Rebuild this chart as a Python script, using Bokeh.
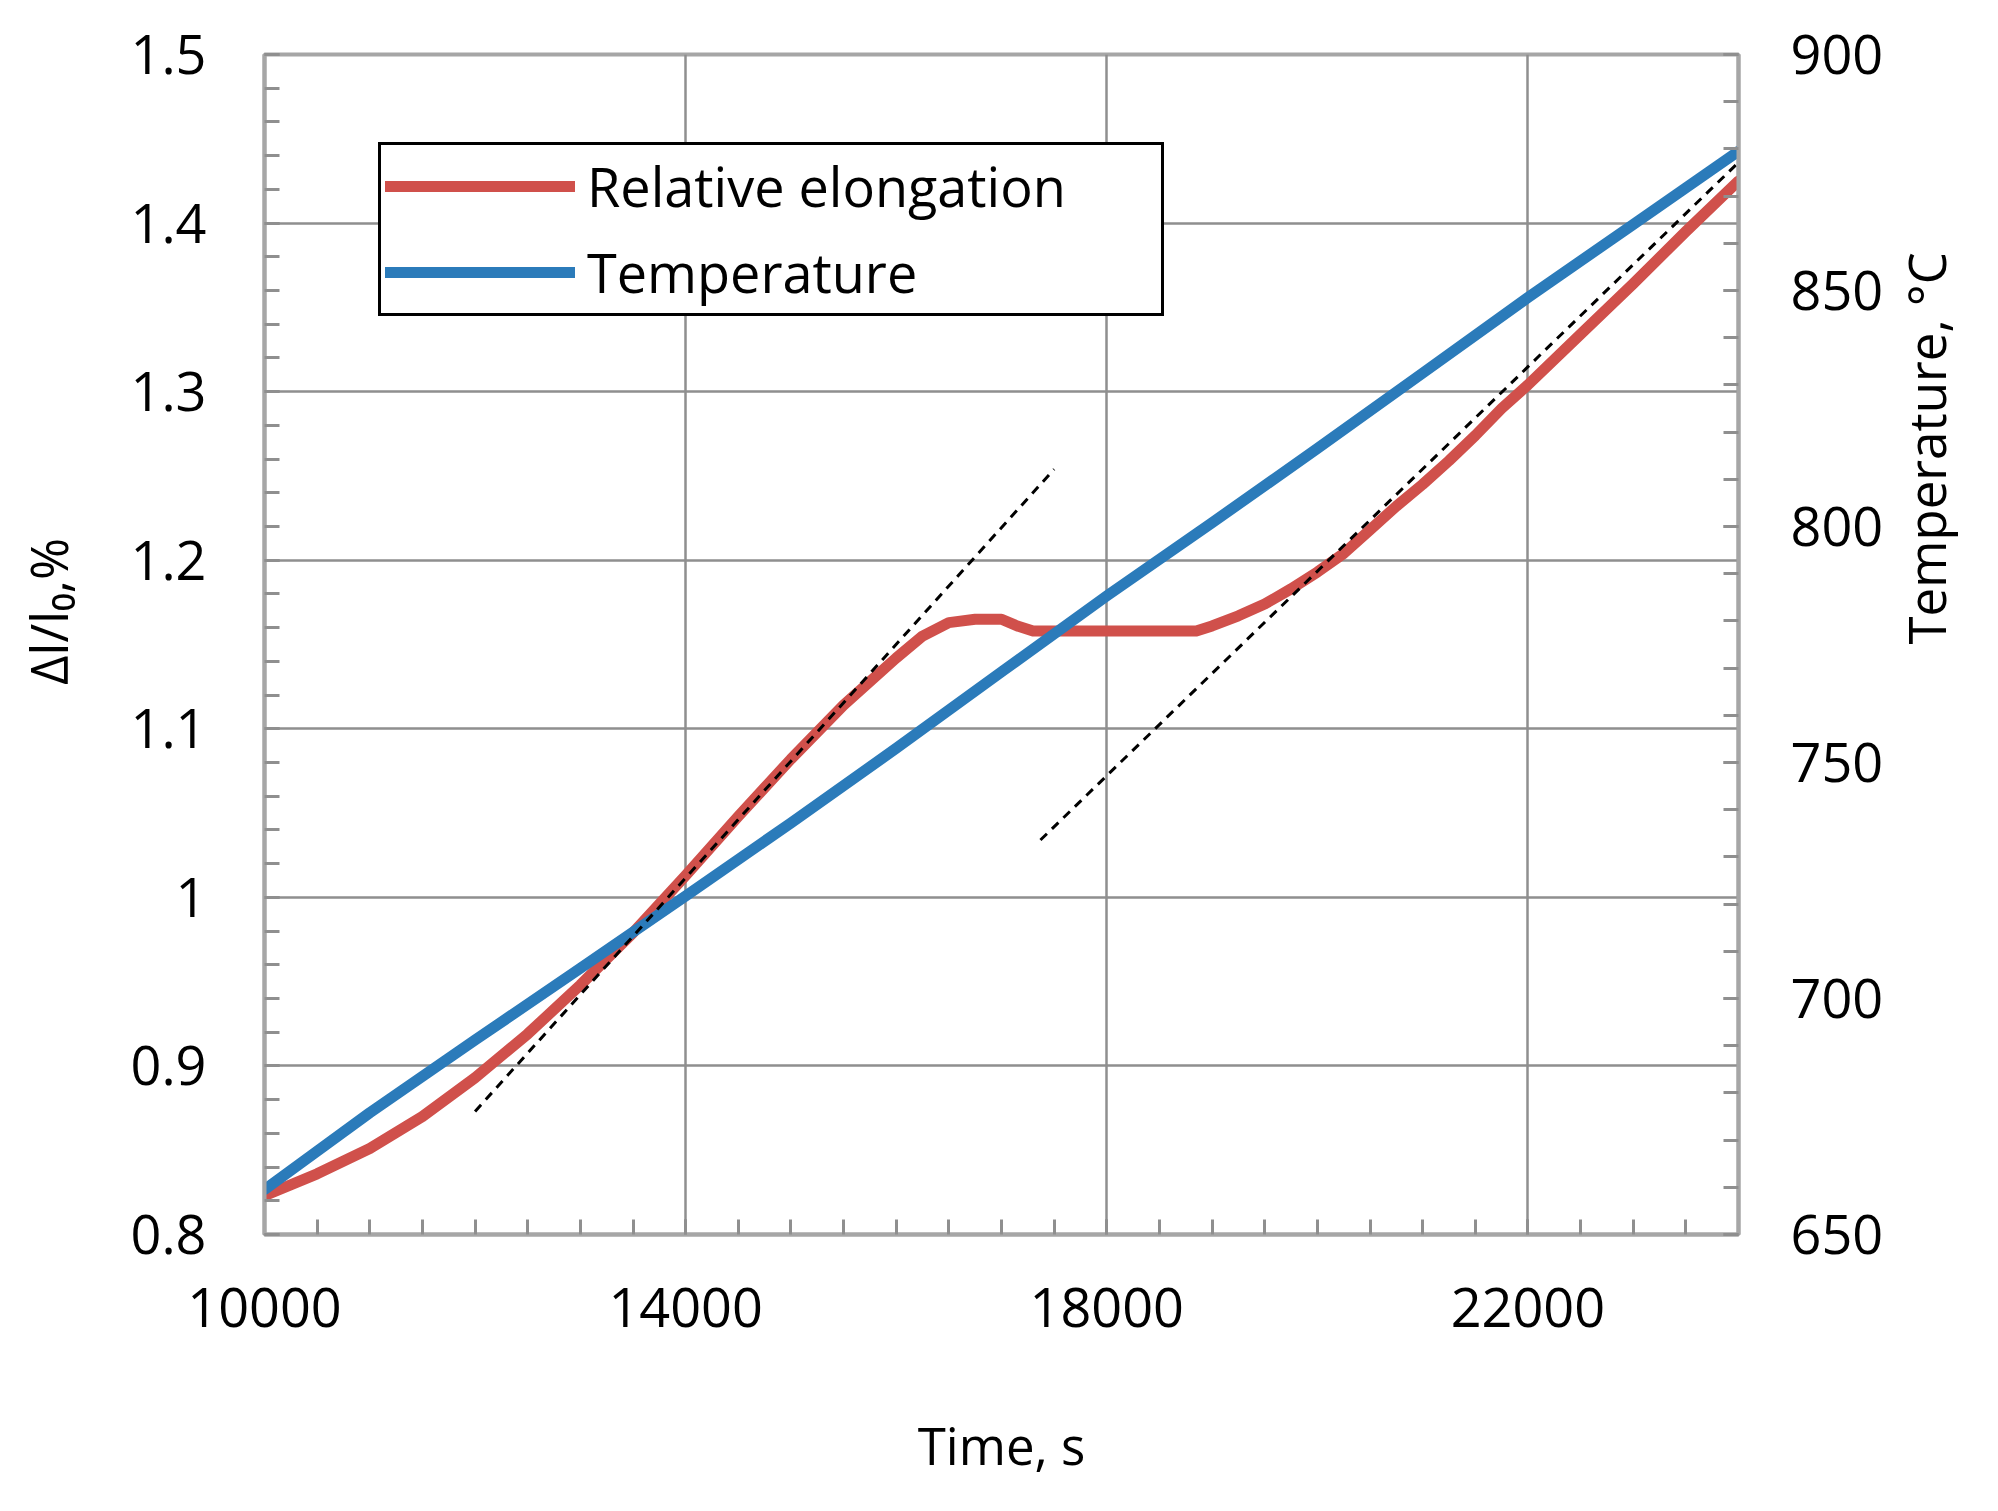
import numpy as np
from bokeh.plotting import figure
from bokeh.models import (Range1d, LinearAxis, FixedTicker, CustomJSTickFormatter,
                          Legend, LegendItem)
from bokeh.embed import file_html
from bokeh.resources import INLINE

# ---------------- data ----------------
time_elong = [10000, 10500, 11000, 11500, 12000, 12500, 13000, 13500, 14000, 14500,
              15000, 15500, 16000, 16250, 16500, 16750, 17000, 17150, 17300, 17500,
              18000, 18500, 18850, 19000, 19250, 19500, 19750, 20000, 20250, 20500,
              20750, 21000, 21250, 21500, 21750, 22000, 22500, 23000, 23500, 24000]
elongation = [0.823, 0.836, 0.851, 0.870, 0.893, 0.919, 0.948, 0.979, 1.013, 1.048,
              1.082, 1.114, 1.142, 1.155, 1.163, 1.165, 1.165, 1.161, 1.158, 1.158,
              1.158, 1.158, 1.158, 1.161, 1.167, 1.174, 1.183, 1.193, 1.204, 1.218,
              1.232, 1.245, 1.259, 1.274, 1.290, 1.304, 1.334, 1.364, 1.395, 1.425]

time_temp = [10000, 11000, 12000, 13000, 14000, 15000, 16000, 17000, 18000, 19000,
             20000, 21000, 22000, 23000, 24000]
temperature = [659.5, 675.8, 691.2, 706.4, 721.7, 737.2, 753.0, 769.2, 785.3, 800.8,
               816.5, 832.5, 848.5, 864.0, 879.5]

tangent1_time = [12000, 17500]
tangent1_elong = [0.873, 1.254]
tangent2_time = [17370, 24000]
tangent2_elong = [1.034, 1.436]

x_ticks = [10000, 14000, 18000, 22000]
y_ticks = [0.8, 0.9, 1.0, 1.1, 1.2, 1.3, 1.4, 1.5]
t_ticks = [650, 700, 750, 800, 850, 900]

series_names = ["Relative elongation", "Temperature"]
x_label = "Time, s"
y_label = "\u0394l/l\u2080,%"
t_label = "Temperature, \u00b0C"

# ---------------- style ----------------
FONT = "Open Sans"
RED = "#D0504B"
BLUE = "#2B7BBA"
AXIS = "#a6a6a6"
GRID = "#8f8f8f"
NBSP = "\u00a0"

p = figure(frame_width=1474, frame_height=1180,
           x_range=Range1d(10000, 24000), y_range=Range1d(0.8, 1.5),
           output_backend="svg", toolbar_location=None,
           min_border_left=264, min_border_top=54,
           min_border_right=250, min_border_bottom=276,
           background_fill_color="white", border_fill_color="white")
p.extra_y_ranges = {"temp": Range1d(650, 900)}

r_red = p.line(time_elong, elongation, line_color=RED, line_width=11,
               line_join="round", line_cap="round")
r_blue = p.line(time_temp, temperature, y_range_name="temp", line_color=BLUE,
                line_width=11, line_join="round", line_cap="round")
p.line(tangent1_time, tangent1_elong, line_color="black", line_width=3, line_dash="9 7")
p.line(tangent2_time, tangent2_elong, line_color="black", line_width=3, line_dash="9 7")

x_ticker = FixedTicker(ticks=x_ticks, minor_ticks=list(np.arange(10000, 24001, 500)))
y_ticker = FixedTicker(ticks=y_ticks, minor_ticks=list(np.round(np.arange(0.8, 1.5001, 0.02), 2)))
t_ticker = FixedTicker(ticks=t_ticks, minor_ticks=list(range(650, 901, 10)))

ax_x = p.below[0]
ax_l = p.left[0]
ax_x.ticker = x_ticker
ax_l.ticker = y_ticker
p.xgrid.ticker = x_ticker
p.ygrid.ticker = y_ticker
ax_x.formatter = CustomJSTickFormatter(code="return tick.toFixed(0);")
ax_l.formatter = CustomJSTickFormatter(code="return String(Math.round(tick*10)/10);")

ax_r = LinearAxis(y_range_name="temp", ticker=t_ticker,
                  formatter=CustomJSTickFormatter(code="return tick.toFixed(0);"))
p.add_layout(ax_r, "right")

ax_x.axis_label = x_label
ax_l.axis_label = NBSP * 5 + y_label
ax_r.axis_label = t_label
ax_r.axis_label_orientation = np.pi / 2   # read bottom-to-top like the left title

for ax in [ax_x, ax_l, ax_r]:
    ax.axis_line_color = AXIS
    ax.axis_line_width = 4
    ax.major_tick_in = 15
    ax.major_tick_out = 0
    ax.minor_tick_in = 15
    ax.minor_tick_out = 0
    ax.major_tick_line_color = GRID
    ax.minor_tick_line_color = GRID
    ax.major_tick_line_width = 3
    ax.minor_tick_line_width = 3
    ax.major_label_text_font = FONT
    ax.major_label_text_font_size = "54px"
    ax.major_label_text_color = "black"
    ax.axis_label_text_font = FONT
    ax.axis_label_text_font_size = "51px"
    ax.axis_label_text_font_style = "normal"
    ax.axis_label_text_color = "black"

ax_x.major_label_standoff = 53
ax_x.axis_label_standoff = 80
ax_l.major_label_standoff = 58
ax_l.axis_label_standoff = 45
ax_r.major_label_standoff = 52
ax_r.axis_label_standoff = 40

p.xgrid.grid_line_color = GRID
p.ygrid.grid_line_color = GRID
p.xgrid.grid_line_width = 2.5
p.ygrid.grid_line_width = 2.5

p.outline_line_color = AXIS
p.outline_line_width = 4

legend = Legend(items=[LegendItem(label=series_names[0], renderers=[r_red]),
                       LegendItem(label=series_names[1], renderers=[r_blue])],
                location=(114, 918),
                label_text_font=FONT, label_text_font_size="54px",
                label_text_color="black",
                glyph_width=190, glyph_height=20, label_height=20, label_width=570,
                label_standoff=12, padding=4, spacing=12, margin=0,
                border_line_color="black", border_line_width=3, border_line_alpha=1.0,
                background_fill_color="white", background_fill_alpha=1.0)
p.add_layout(legend)

open("out.html", "w").write(file_html(p, INLINE, title="chart"))
